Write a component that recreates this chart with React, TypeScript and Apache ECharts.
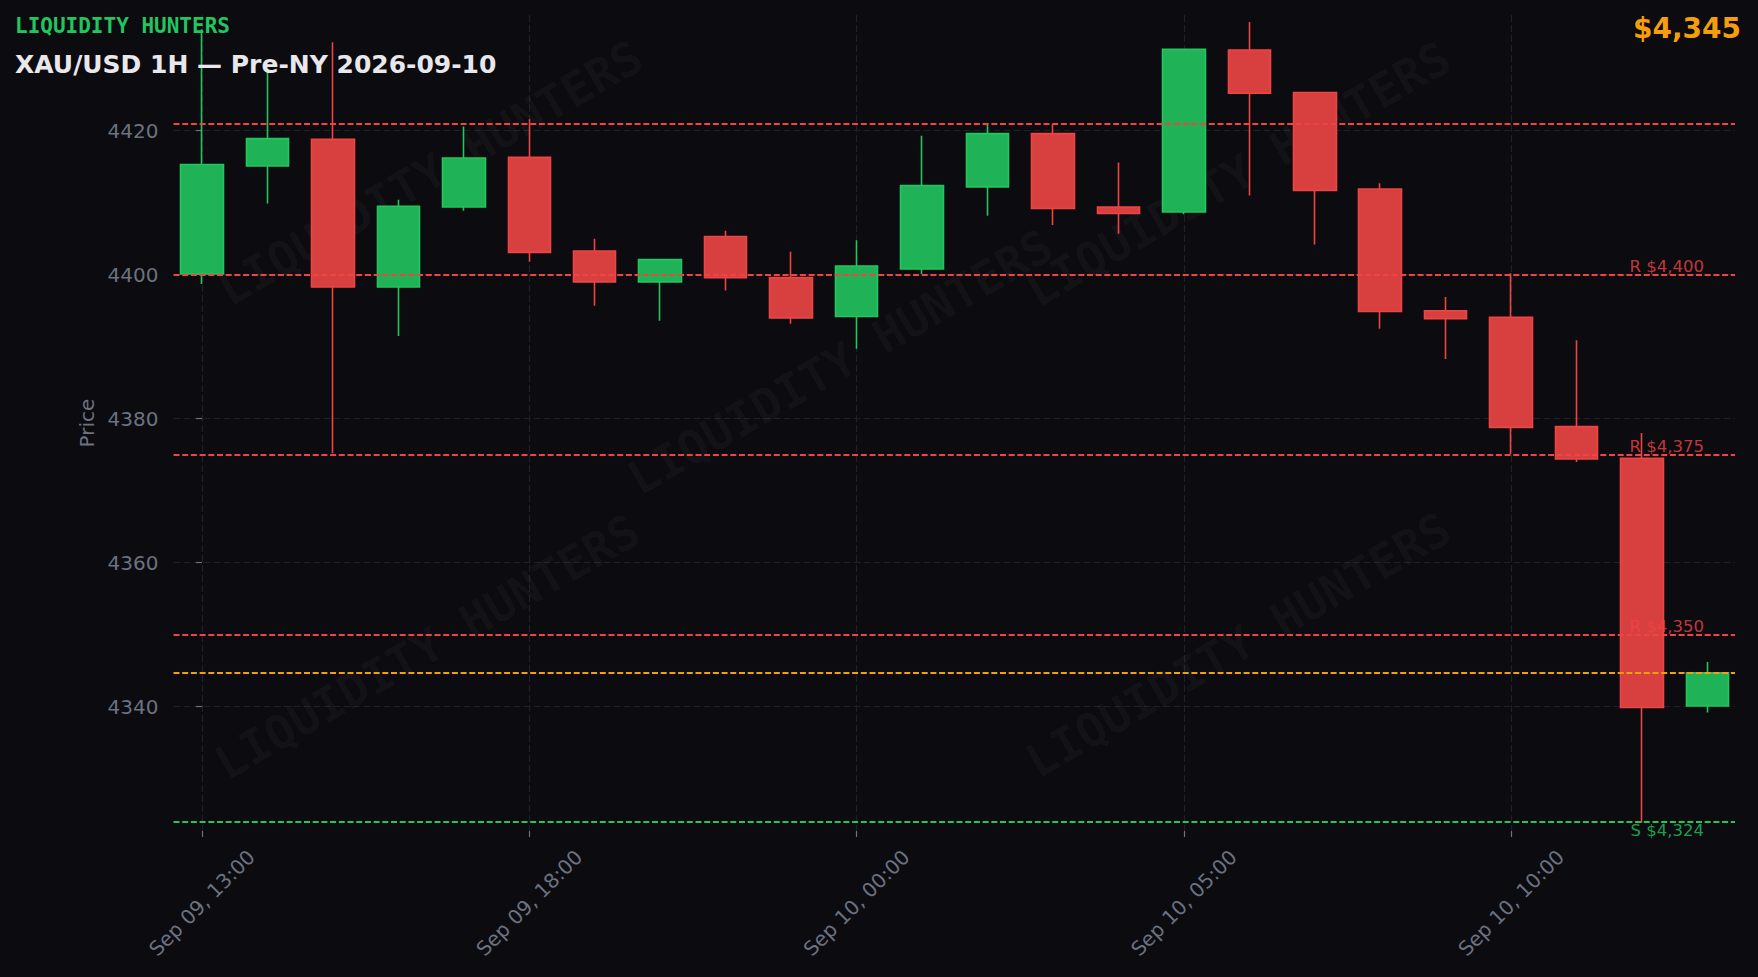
import React, { useEffect, useRef } from 'react';
import * as echarts from 'echarts';

// ---- data ----
const timeLabels = [
  'Sep 09, 13:00', 'Sep 09, 14:00', 'Sep 09, 15:00', 'Sep 09, 16:00', 'Sep 09, 17:00',
  'Sep 09, 18:00', 'Sep 09, 19:00', 'Sep 09, 20:00', 'Sep 09, 21:00', 'Sep 09, 23:00',
  'Sep 10, 00:00', 'Sep 10, 01:00', 'Sep 10, 02:00', 'Sep 10, 03:00', 'Sep 10, 04:00',
  'Sep 10, 05:00', 'Sep 10, 06:00', 'Sep 10, 07:00', 'Sep 10, 08:00', 'Sep 10, 09:00',
  'Sep 10, 10:00', 'Sep 10, 11:00', 'Sep 10, 12:00', 'Sep 10, 13:00',
];
const opens = [4400.1, 4415.1, 4418.8, 4398.3, 4409.4, 4416.3, 4403.3, 4399.0, 4405.3, 4399.6, 4394.2, 4400.8, 4412.2, 4419.6, 4409.4, 4408.7, 4431.2, 4425.3, 4411.9, 4395.0, 4394.1, 4378.9, 4374.5, 4340.1];
const closes = [4415.3, 4418.9, 4398.3, 4409.5, 4416.2, 4403.1, 4399.0, 4402.1, 4399.6, 4394.0, 4401.2, 4412.4, 4419.6, 4409.2, 4408.5, 4431.3, 4425.2, 4411.7, 4394.9, 4393.9, 4378.8, 4374.4, 4339.9, 4344.7];
const lows = [4398.7, 4409.9, 4375.2, 4391.5, 4408.9, 4401.8, 4395.7, 4393.6, 4397.8, 4393.2, 4389.7, 4400.1, 4408.2, 4406.9, 4405.7, 4408.4, 4411.0, 4404.2, 4392.5, 4388.3, 4375.1, 4374.0, 4323.9, 4339.2];
const highs = [4434.1, 4428.3, 4432.3, 4410.4, 4420.6, 4421.6, 4405.0, 4402.2, 4406.1, 4403.2, 4404.8, 4419.3, 4420.8, 4420.9, 4415.6, 4431.4, 4435.1, 4425.4, 4412.7, 4396.9, 4400.2, 4390.9, 4378.0, 4346.2];

const xTickIndices = [0, 5, 10, 15, 20];
const yTickValues = [4340, 4360, 4380, 4400, 4420];
const yRange = [4322.74, 4436.07];

const sessionHighLevel = 4421;
const resistanceLevels = [4400, 4375, 4350];
const supportLevels = [4324];

// ---- styles ----
const BG = '#0b0b10';
const GRID = '#1f2029';
const AXIS_TEXT = '#6b7280';
const GREEN = '#22c55e';
const GREEN_FILL = '#20b257';
const RED = '#ef4444';
const RED_FILL = '#d83f3f';
const ORANGE = '#f59e0b';

const fmt = (v: number) => v.toLocaleString('en-US', { maximumFractionDigits: 0 });

export default function App() {
  const ref = useRef<HTMLDivElement>(null);

  useEffect(() => {
    document.body.style.margin = '0';
    document.body.style.background = BG;
    if (!ref.current) return;
    const chart = echarts.init(ref.current, undefined, { renderer: 'svg' });

    const data = opens.map((o, i) => [i, o, closes[i], lows[i], highs[i]]);
    const currentPrice = closes[closes.length - 1];

    const dash = [6, 2.7];
    const LW = 1.8;
    const markData: any[] = [
      { yAxis: sessionHighLevel, lineStyle: { color: RED, type: dash, width: LW }, label: { show: false } },
      ...resistanceLevels.map((v) => ({
        yAxis: v,
        lineStyle: { color: RED, type: dash, width: LW },
        label: {
          show: true,
          formatter: `R $${fmt(v)}`,
          position: 'insideEndTop',
          distance: [31, 0],
          color: 'rgba(239,68,68,0.8)',
          fontSize: 16.5,
          fontFamily: 'DejaVu Sans',
        },
      })),
      { yAxis: currentPrice, lineStyle: { color: ORANGE, type: dash, width: LW }, label: { show: false } },
      ...supportLevels.map((v) => ({
        yAxis: v,
        lineStyle: { color: GREEN, type: dash, width: LW },
        label: {
          show: true,
          formatter: `S $${fmt(v)}`,
          position: 'insideEndBottom',
          distance: [31, 0],
          color: 'rgba(34,197,94,0.8)',
          fontSize: 16.5,
          fontFamily: 'DejaVu Sans',
        },
      })),
    ];

    const watermarkPos = [
      [430, 173],
      [1238, 174],
      [840, 362],
      [427, 647],
      [1238, 645],
    ];

    const option: any = {
      animation: false,
      backgroundColor: BG,
      textStyle: { fontFamily: 'DejaVu Sans' },
      grid: { left: 173.5, right: 23, top: 15, bottom: 146, containLabel: false, outerBoundsMode: 'none' },
      xAxis: {
        type: 'value',
        min: -0.435,
        max: 23.42,
        axisLine: { show: false },
        axisTick: { show: true, customValues: xTickIndices, length: 6, lineStyle: { color: AXIS_TEXT, width: 1.2 } },
        axisLabel: {
          customValues: xTickIndices,
          formatter: (v: number) => timeLabels[Math.round(v)] ?? '',
          rotate: 45,
          align: 'center',
          verticalAlign: 'middle',
          margin: 72,
          color: AXIS_TEXT,
          fontSize: 20,
          fontFamily: 'DejaVu Sans',
        },
        splitLine: { show: true, lineStyle: { color: GRID, type: [7, 3], width: 1.2 } },
        minorTick: { show: false },
        minorSplitLine: { show: false },
      },
      yAxis: {
        type: 'value',
        min: yRange[0],
        max: yRange[1],
        scale: true,
        name: 'Price',
        nameLocation: 'middle',
        nameRotate: 90,
        nameGap: 75,
        nameTextStyle: { color: AXIS_TEXT, fontSize: 20, fontFamily: 'DejaVu Sans' },
        axisLine: { show: false },
        axisTick: { show: true, customValues: yTickValues, length: 6, lineStyle: { color: AXIS_TEXT, width: 1.2 } },
        axisLabel: {
          customValues: yTickValues,
          margin: 15,
          color: AXIS_TEXT,
          fontSize: 20,
          fontFamily: 'DejaVu Sans',
          formatter: (v: number) => String(Math.round(v)),
        },
        splitLine: { show: true, lineStyle: { color: GRID, type: [7, 3], width: 1.2 } },
      },
      series: [
        {
          type: 'candlestick',
          data,
          barWidth: 43,
          itemStyle: {
            color: GREEN_FILL,
            color0: RED_FILL,
            borderColor: GREEN,
            borderColor0: RED,
            borderWidth: 1.6,
          },
          markLine: {
            silent: true,
            symbol: ['none', 'none'],
            animation: false,
            data: markData,
          },
        },
      ],
      graphic: [
        ...watermarkPos.map(([x, y]) => ({
          type: 'text',
          x,
          y,
          rotation: (30 * Math.PI) / 180,
          silent: true,
          z: 1,
          style: {
            text: 'LIQUIDITY HUNTERS',
            fill: 'rgba(255,255,255,0.035)',
            font: 'bold 47px "DejaVu Sans Mono"',
            align: 'center',
            verticalAlign: 'middle',
            textAlign: 'center',
            textVerticalAlign: 'middle',
          },
        })),
        {
          type: 'text',
          x: 15,
          y: 25.5,
          z: 100,
          style: {
            text: 'LIQUIDITY HUNTERS',
            fill: GREEN,
            font: 'bold 21px "DejaVu Sans Mono"',
            align: 'left',
            verticalAlign: 'middle',
            textAlign: 'left',
            textVerticalAlign: 'middle',
          },
        },
        {
          type: 'text',
          x: 15,
          y: 64,
          z: 100,
          style: {
            text: 'XAU/USD 1H — Pre-NY 2026-09-10',
            fill: '#e8e8ec',
            font: 'bold 25px "DejaVu Sans"',
            align: 'left',
            verticalAlign: 'middle',
            textAlign: 'left',
            textVerticalAlign: 'middle',
          },
        },
        {
          type: 'text',
          x: 1741,
          y: 28,
          z: 100,
          style: {
            text: `$${fmt(currentPrice)}`,
            fill: ORANGE,
            font: 'bold 28px "DejaVu Sans"',
            align: 'right',
            verticalAlign: 'middle',
            textAlign: 'right',
            textVerticalAlign: 'middle',
          },
        },
      ],
    };

    chart.setOption(option);
    return () => chart.dispose();
  }, []);

  return <div ref={ref} style={{ width: 1758, height: 977, background: BG }} />;
}
